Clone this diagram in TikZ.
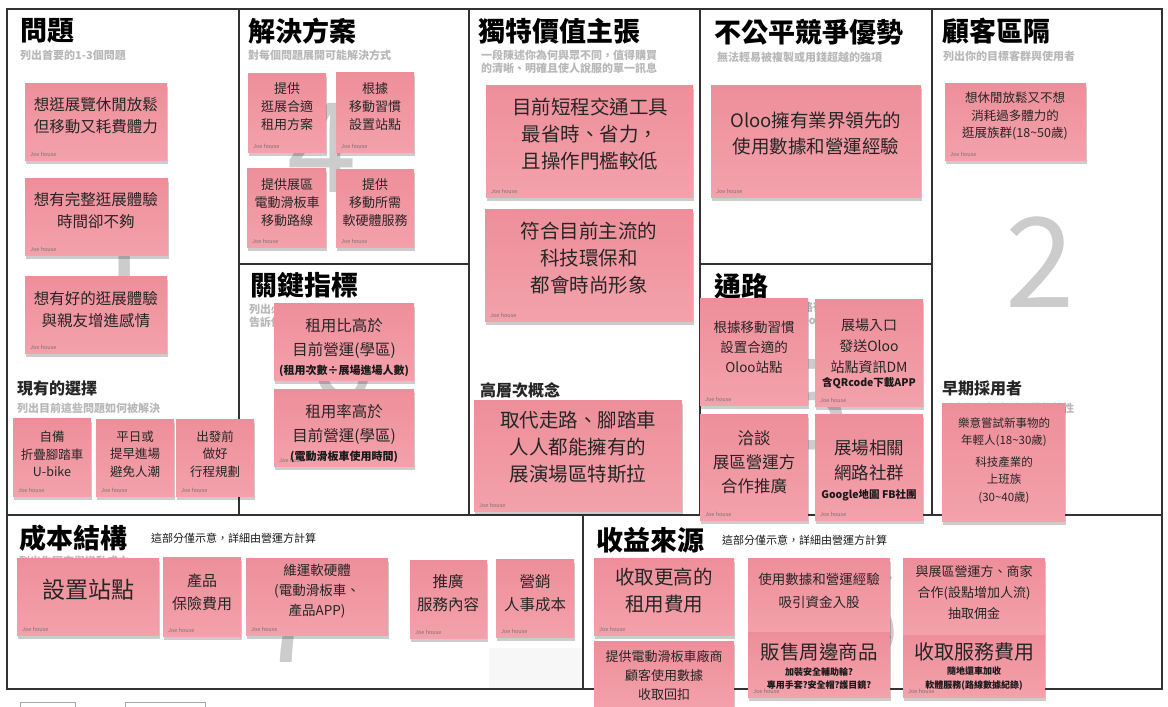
\documentclass[tikz,border=0pt]{standalone}
\usepackage{fontspec}
\setmainfont{Noto Sans CJK TC}
\usetikzlibrary{shadows}
\definecolor{pinktop}{RGB}{237,143,154}
\definecolor{pinkbot}{RGB}{243,161,171}
\definecolor{framec}{RGB}{50,50,50}
\newcommand\fsz[2]{\fontsize{#1}{#2}\selectfont}
\newcommand\sticky[5]{%
  \node[note, minimum width=#4, minimum height=#5, anchor=north west] (#1) at (#2,#3) {};
  \node[joe] (#1-j) at ([xshift=5pt,yshift=4pt]#1.south west) {Joe house};}
\newcommand\stickyn[5]{%
  \node[note, minimum width=#4, minimum height=#5, anchor=north west] (#1) at (#2,#3) {};}
\begin{document}
\begin{tikzpicture}[x=1pt,y=-1pt,
  frame/.style={draw=framec, line width=1.8pt},
  note/.style={top color=pinktop, bottom color=pinkbot, draw=none, inner sep=0pt,
    drop shadow={shadow xshift=1pt, shadow yshift=-4pt, opacity=0.2, fill=black}},
  ntxt/.style={align=center, text=black!85, inner sep=0pt},
  bold/.style={align=center, text=black!90, inner sep=0pt, font=\bfseries\fsz{10.5}{13}},
  title/.style={anchor=west, inner sep=0pt, text=black, font=\bfseries\fsz{27}{30}},
  subhead/.style={anchor=west, inner sep=0pt, text=black!85, font=\bfseries\fsz{16}{18}},
  sub/.style={anchor=west, inner sep=0pt, text=black!28, font=\bfseries\fsz{11}{13}, align=left},
  anno/.style={anchor=west, inner sep=0pt, text=black!90, font=\fsz{11}{13}},
  bignum/.style={inner sep=0pt, text=black!20, font=\fsz{125}{125}},
  joe/.style={anchor=south west, inner sep=0pt, text=black!55, font=\fsz{5.5}{6}},
]
\useasboundingbox (0,0) rectangle (1168,707);
\fill[white] (0,0) rectangle (1168,707);

% faint remnants
\fill[black!3] (489,648) rectangle (583,688);
\draw[black!35, line width=0.6pt] (20,702) rectangle (75,714);
\draw[black!35, line width=0.6pt] (125,702) rectangle (205,714);

% grid
\draw[frame] (7,9) rectangle (1162,689);
\draw[frame] (7,515) -- (1162,515);
\draw[frame] (239,9) -- (239,515);
\draw[frame] (469,9) -- (469,515);
\draw[frame] (700,9) -- (700,515);
\draw[frame] (932,9) -- (932,515);
\draw[frame] (239,264) -- (469,264);
\draw[frame] (700,264) -- (932,264);
\draw[frame] (583,515) -- (583,689);

% big faint numbers
\node[bignum] (n1) at (122,262) {1};
\node[bignum] (n4) at (322,148) {4};
\node[bignum] (n2) at (1040,262) {2};
\node[bignum] (n5) at (815,405) {5};
\node[bignum] (n8) at (343,400) {8};
\node[bignum] (n7) at (290,618) {7};
\node[bignum] (n6) at (865,615) {6};

% titles
\node[title] (t1) at (20,31) {問題};
\node[sub] (s1) at (20,55) {列出首要的1-3個問題};
\node[title] (t2) at (248,31) {解決方案};
\node[sub] (s2) at (248,55) {對每個問題展開可能解決方式};
\node[title] (t3) at (478,31) {獨特價值主張};
\node[sub, font=\bfseries\fsz{11}{13.5}] (s3) at (481,62) {一段陳述你為何與眾不同，值得購買\\的清晰、明確且使人說服的單一訊息};
\node[title] (t4) at (714,32) {不公平競爭優勢};
\node[sub] (s4) at (717,57) {無法輕易被複製或用錢超越的強項};
\node[title] (t5) at (942,31) {顧客區隔};
\node[sub] (s5) at (943,56) {列出你的目標客群與使用者};
\node[title] (t6) at (250,285) {關鍵指標};
\node[sub, font=\bfseries\fsz{11}{13}] (s6) at (249,316) {列出必須檢驗的關鍵數字\\告訴你事業經營的狀況};
\node[title] (t7) at (714,286) {通路};
\node[sub, font=\bfseries\fsz{11}{13}] (s7) at (714,314) {列出你接觸客群的路徑\\(inbound or outbound)};
\node[subhead] (t8) at (17,388) {現有的選擇};
\node[sub] (s8) at (17,408) {列出目前這些問題如何被解決};
\node[subhead] (t9) at (480,390) {高層次概念};
\node[subhead] (t10) at (942,388) {早期採用者};
\node[sub] (s10) at (942,408) {列出你理想客群具備的特性};
\node[title] (t11) at (19,538) {成本結構};
\node[sub] (s11) at (19,561) {列出你固定與變動成本};
\node[anno] (a11) at (151,538) {這部分僅示意，詳細由營運方計算};
\node[title] (t12) at (596,540) {收益來源};
\node[sub] (s12) at (596,563) {列出你的收入來源};
\node[anno] (a12) at (722,540) {這部分僅示意，詳細由營運方計算};

% problem
\sticky{p1}{25}{83}{142}{77}
\node[ntxt, font=\fsz{15.5}{22}] (p1t) at (96,116) {想逛展覽休閒放鬆\\但移動又耗費體力};
\sticky{p2}{25}{178}{143}{77}
\node[ntxt, font=\fsz{15.5}{22}] (p2t) at (96,211) {想有完整逛展體驗\\時間卻不夠};
\sticky{p3}{25}{276}{142}{77}
\node[ntxt, font=\fsz{15.5}{22}] (p3t) at (96,310) {想有好的逛展體驗\\與親友增進感情};

% existing alternatives
\sticky{e1}{13}{418}{78}{78}
\node[ntxt, font=\fsz{12.5}{17.5}] (e1t) at (52,454) {自備\\折疊腳踏車\\U-bike};
\sticky{e2}{96}{419}{78}{77}
\node[ntxt, font=\fsz{12.5}{17.5}] (e2t) at (135,454) {平日或\\提早進場\\避免人潮};
\sticky{e3}{176}{419}{78}{77}
\node[ntxt, font=\fsz{12.5}{17.5}] (e3t) at (215,454) {出發前\\做好\\行程規劃};

% solution
\sticky{so1}{248}{73}{78}{79}
\node[ntxt, font=\fsz{13}{18}] (so1t) at (287,107) {提供\\逛展合適\\租用方案};
\sticky{so2}{336}{72}{78}{80}
\node[ntxt, font=\fsz{13}{18}] (so2t) at (375,107) {根據\\移動習慣\\設置站點};
\sticky{so3}{247}{168}{79}{79}
\node[ntxt, font=\fsz{13}{18}] (so3t) at (287,203) {提供展區\\電動滑板車\\移動路線};
\sticky{so4}{336}{169}{78}{78}
\node[ntxt, font=\fsz{13}{18}] (so4t) at (375,203) {提供\\移動所需\\軟硬體服務};

% key metrics
\stickyn{k1}{274}{303}{140}{77}
\node[ntxt, font=\fsz{15.5}{24}] (k1t) at (344,338) {租用比高於\\目前營運(學區)};
\node[bold, font=\bfseries\fsz{11}{13}] (k1b) at (344,371) {(租用次數÷展場進場人數)};
\sticky{k2}{274}{389}{140}{77}
\node[ntxt, font=\fsz{15.5}{24}] (k2t) at (344,424) {租用率高於\\目前營運(學區)};
\node[bold, font=\bfseries\fsz{11}{13}] (k2b) at (344,457) {(電動滑板車使用時間)};

% UVP
\sticky{u1}{486}{85}{207}{112}
\node[ntxt, font=\fsz{19.5}{27}] (u1t) at (590,134) {目前短程交通工具\\最省時、省力，\\且操作門檻較低};
\sticky{u2}{485}{209}{208}{112}
\node[ntxt, font=\fsz{19.5}{27}] (u2t) at (589,258) {符合目前主流的\\科技環保和\\都會時尚形象};
\sticky{u3}{474}{400}{208}{111}
\node[ntxt, font=\fsz{19.5}{27}] (u3t) at (578,447) {取代走路、腳踏車\\人人都能擁有的\\展演場區特斯拉};

% unfair advantage
\sticky{a1}{711}{85}{210}{112}
\node[ntxt, font=\fsz{18.5}{26}] (a1t) at (816,133) {Oloo擁有業界領先的\\使用數據和營運經驗};

% channels
\sticky{c1}{700}{298}{108}{107}
\node[ntxt, font=\fsz{13.5}{20}] (c1t) at (754,347) {根據移動習慣\\設置合適的\\Oloo站點};
\sticky{c2}{815}{299}{108}{107}
\node[ntxt, font=\fsz{14}{21}] (c2t) at (869,346) {展場入口\\發送Oloo\\站點資訊DM};
\node[bold] (c2b) at (869,383) {含QRcode下載APP};
\sticky{c3}{700}{414}{108}{106}
\node[ntxt, font=\fsz{16.5}{24}] (c3t) at (754,462) {洽談\\展區營運方\\合作推廣};
\sticky{c4}{815}{414}{108}{106}
\node[ntxt, font=\fsz{17.5}{25}] (c4t) at (869,460) {展場相關\\網路社群};
\node[bold] (c4b) at (869,495) {Google地圖 FB社團};

% customer segments
\sticky{g1}{945}{83}{141}{77}
\node[ntxt, font=\fsz{12.5}{17.5}] (g1t) at (1015,116) {想休閒放鬆又不想\\消耗過多體力的\\逛展族群(18\textasciitilde 50歲)};
\stickyn{g2}{942}{403}{123}{118}
\node[ntxt, font=\fsz{11.5}{17.5}] (g2t) at (1004,432) {樂意嘗試新事物的\\年輕人(18\textasciitilde 30歲)};
\node[ntxt, font=\fsz{11.5}{17.5}] (g2u) at (1004,480) {科技產業的\\上班族\\(30\textasciitilde 40歲)};

% cost structure
\sticky{cs1}{17}{558}{142}{77}
\node[ntxt, font=\fsz{23}{28}] (cs1t) at (88,590) {設置站點};
\sticky{cs2}{163}{557}{78}{79}
\node[ntxt, font=\fsz{15}{23}] (cs2t) at (202,592) {產品\\保險費用};
\sticky{cs3}{246}{558}{142}{77}
\node[ntxt, font=\fsz{13.5}{20}] (cs3t) at (317,591) {維運軟硬體\\(電動滑板車、\\產品APP)};
\sticky{cs4}{410}{560}{77}{78}
\node[ntxt, font=\fsz{15.5}{23}] (cs4t) at (448,593) {推廣\\服務內容};
\sticky{cs5}{496}{559}{78}{78}
\node[ntxt, font=\fsz{15.5}{23}] (cs5t) at (535,593) {營銷\\人事成本};

% revenue streams
\sticky{r1}{594}{558}{140}{77}
\node[ntxt, font=\fsz{19.5}{27}] (r1t) at (664,591) {收取更高的\\租用費用};
\stickyn{r2}{748}{558}{142}{76}
\node[ntxt, font=\fsz{13.5}{23}] (r2t) at (819,591) {使用數據和營運經驗\\吸引資金入股};
\stickyn{r3}{903}{558}{142}{77}
\node[ntxt, font=\fsz{13}{21}] (r3t) at (974,593) {與展區營運方、商家\\合作(設點增加人流)\\抽取佣金};
\stickyn{r4}{594}{641}{140}{68}
\node[ntxt, font=\fsz{13}{19}] (r4t) at (664,675) {提供電動滑板車廠商\\顧客使用數據\\收取回扣};
\sticky{r5}{748}{632}{142}{65}
\node[ntxt, font=\fsz{19.5}{24}] (r5t) at (819,652) {販售周邊商品};
\node[bold, font=\bfseries\fsz{9}{13}] (r5b) at (819,679) {加裝安全輔助輪?\\專用手套?安全帽?護目鏡?};
\sticky{r6}{903}{635}{142}{62}
\node[ntxt, font=\fsz{20}{24}] (r6t) at (974,652) {收取服務費用};
\node[bold, font=\bfseries\fsz{9}{14}] (r6b) at (974,679) {隨地還車加收\\軟體服務(路線數據紀錄)};
\end{tikzpicture}
\end{document}
